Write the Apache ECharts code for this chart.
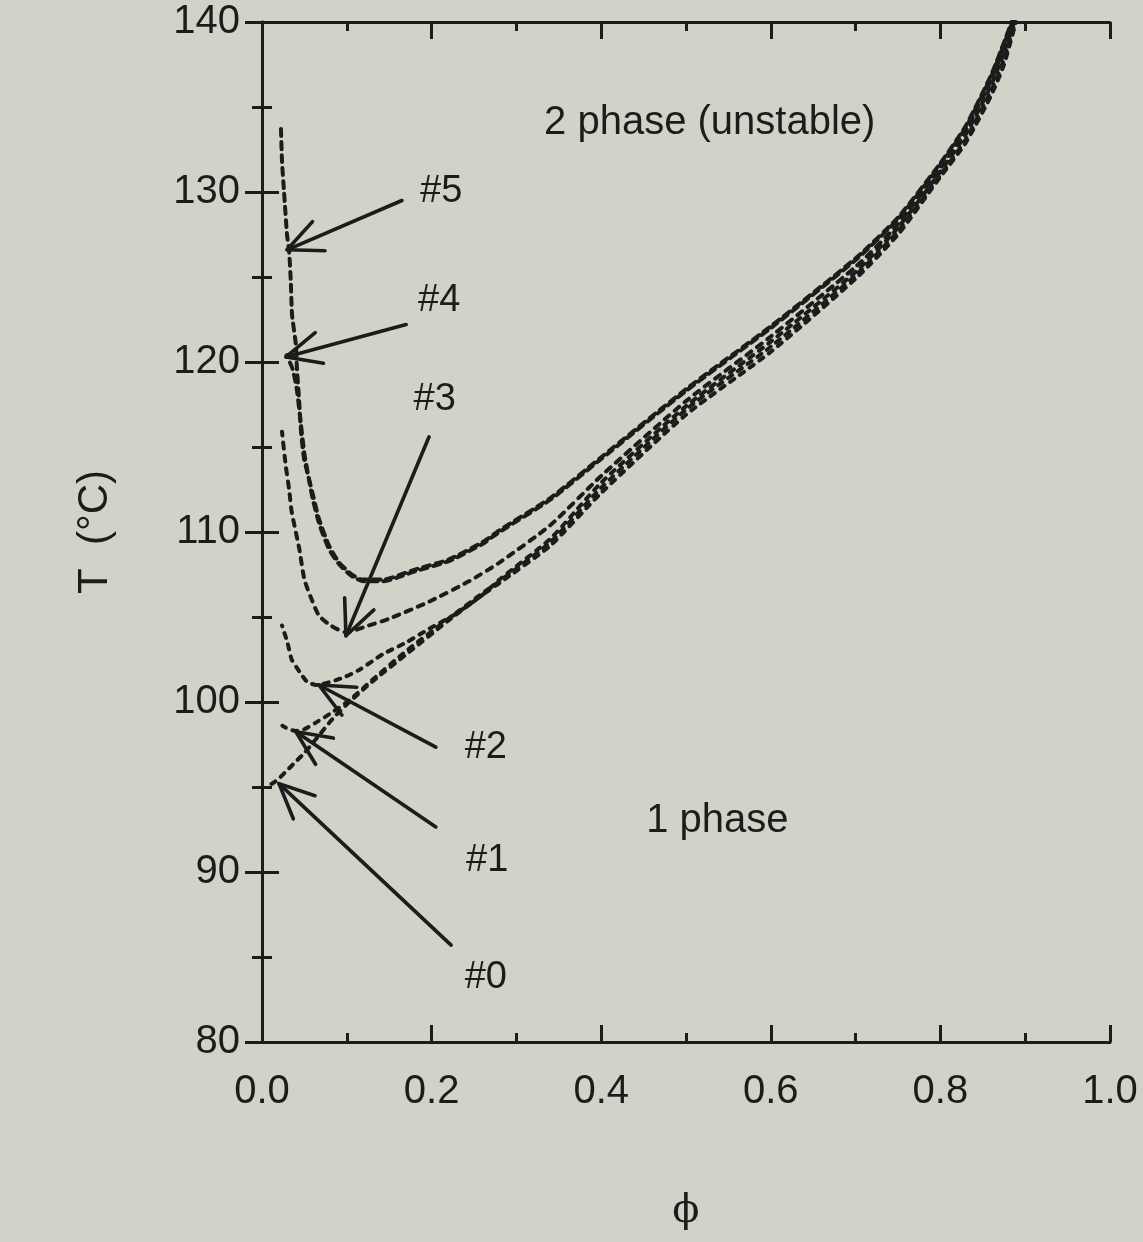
<!DOCTYPE html>
<html>
<head>
<meta charset="utf-8">
<script src="https://cdn.jsdelivr.net/npm/echarts@6/dist/echarts.min.js"></script>
<style>
  html, body { margin: 0; padding: 0; background: #d1d3c8; }
  #chart { width: 1143px; height: 1242px; }
</style>
</head>
<body>
<div id="chart"></div>
<script>
// Spinodal curves, [phi, T (°C)] for samples #0 .. #5
const curve5 = [[0.0224,133.7],[0.0236,131.8],[0.026,130.0],[0.0295,127.5],[0.032,126.5],[0.034,124.7],[0.0354,122.8],[0.040,121.0],[0.041,119.8],[0.0437,117.8],[0.046,115.9],[0.0496,114.3],[0.053,113.6],[0.059,112.4],[0.067,110.8],[0.079,109.2],[0.091,108.2],[0.106,107.5],[0.118,107.2],[0.142,107.2],[0.181,107.8],[0.221,108.4],[0.26,109.4],[0.28,110.1],[0.34,112.0],[0.4,114.4],[0.5,118.4],[0.6,122.1],[0.7,126.1],[0.75,128.5],[0.8,131.7],[0.83,133.9],[0.86,136.9],[0.875,138.8],[0.884,140.0]];
const curve4 = [[0.029,120.4],[0.036,119.6],[0.041,118.4],[0.046,116.3],[0.050,114.6],[0.055,113.2],[0.060,111.9],[0.068,110.4],[0.079,109.0],[0.091,108.1],[0.106,107.4],[0.12,107.1],[0.142,107.1],[0.181,107.7],[0.221,108.3],[0.26,109.3],[0.28,110.0],[0.34,111.9],[0.4,114.3],[0.5,118.3],[0.6,122.0],[0.7,126.0],[0.75,128.4],[0.8,131.6],[0.83,133.8],[0.86,136.8],[0.875,138.7],[0.885,140.0]];
const curve3 = [[0.0236,115.9],[0.028,113.9],[0.032,112.5],[0.035,111.2],[0.044,109.0],[0.050,107.2],[0.058,106.1],[0.067,105.1],[0.081,104.5],[0.099,104.1],[0.126,104.5],[0.15,104.9],[0.197,105.9],[0.244,107.1],[0.28,108.2],[0.34,110.4],[0.4,113.3],[0.5,117.7],[0.6,121.5],[0.7,125.6],[0.75,128.1],[0.8,131.4],[0.83,133.6],[0.86,136.6],[0.875,138.5],[0.886,140.0]];
const curve2 = [[0.0236,104.5],[0.030,103.5],[0.035,102.5],[0.044,101.8],[0.053,101.2],[0.064,101.0],[0.094,101.4],[0.115,101.9],[0.142,102.8],[0.170,103.5],[0.197,104.3],[0.229,105.2],[0.26,106.3],[0.28,107.2],[0.34,109.6],[0.4,112.9],[0.5,117.4],[0.6,121.2],[0.7,125.3],[0.75,127.9],[0.8,131.2],[0.83,133.4],[0.86,136.3],[0.875,138.2],[0.887,140.0]];
const curve1 = [[0.024,98.6],[0.032,98.4],[0.040,98.3],[0.050,98.4],[0.064,98.8],[0.083,99.4],[0.103,100.1],[0.13,101.3],[0.17,103.0],[0.22,104.9],[0.26,106.4],[0.28,107.1],[0.34,109.4],[0.4,112.6],[0.5,117.2],[0.6,120.9],[0.7,125.1],[0.75,127.7],[0.8,131.0],[0.83,133.1],[0.86,136.0],[0.875,137.8],[0.888,140.0]];
const curve0 = [[0.004,95.1],[0.012,95.2],[0.020,95.5],[0.030,96.0],[0.040,96.5],[0.050,97.0],[0.065,97.9],[0.083,99.0],[0.103,100.0],[0.13,101.2],[0.17,102.8],[0.22,104.8],[0.26,106.3],[0.28,107.0],[0.34,109.2],[0.4,112.3],[0.5,116.9],[0.6,120.6],[0.7,124.9],[0.75,127.5],[0.8,130.9],[0.83,132.9],[0.86,135.7],[0.875,137.5],[0.889,140.0]];

// Pointer arrows: [tail phi, tail T, head phi, head T]
const arrows = [
  [0.165, 129.5, 0.0295, 126.6],
  [0.170, 122.2, 0.0283, 120.3],
  [0.197, 115.6, 0.099, 103.9],
  [0.205, 97.35, 0.067, 101.0],
  [0.205, 92.65, 0.040, 98.25],
  [0.223, 85.7, 0.020, 95.2]
];

// Text annotations: [phi, T, text]
const sampleLabels = [
  [0.2113, 130.0, '#5'],
  [0.209, 123.6, '#4'],
  [0.2037, 117.8, '#3'],
  [0.264, 97.35, '#2'],
  [0.2656, 90.7, '#1'],
  [0.264, 83.8, '#0']
];
const regionLabels = [
  [0.528, 134.06, '2 phase (unstable)'],
  [0.537, 93.0, '1 phase']
];

const ink = '#1c1c1a';
const FONT = '"Liberation Sans", Arial, Helvetica, sans-serif';

function curveSeries(name, data, dash, offset) {
  return {
    name: name,
    type: 'line',
    data: data,
    showSymbol: false,
    smooth: 0.2,
    clip: true,
    silent: true,
    lineStyle: { color: ink, width: 4, type: dash, dashOffset: offset, cap: 'round' },
    z: 3
  };
}

const chart = echarts.init(document.getElementById('chart'), null, { renderer: 'canvas' });

const baseAxisLine = { show: true, lineStyle: { color: ink, width: 3 } };

chart.setOption({
  backgroundColor: '#d1d3c8',
  animation: false,
  grid: { left: 262, right: 33, top: 22, bottom: 200, containLabel: false },
  xAxis: [
    {
      type: 'value', min: 0, max: 1, interval: 0.2, position: 'bottom',
      axisLine: baseAxisLine,
      axisTick: { show: true, inside: true, length: 17, lineStyle: { color: ink, width: 3 } },
      minorTick: { show: true, splitNumber: 2, length: 9, lineStyle: { color: ink, width: 3 } },
      splitLine: { show: false },
      axisLabel: {
        color: ink, fontFamily: FONT, fontSize: 40, margin: 30,
        formatter: v => v.toFixed(1)
      },
      name: 'ϕ', nameLocation: 'middle', nameGap: 150,
      nameTextStyle: { color: ink, fontFamily: '"DejaVu Serif", serif', fontSize: 40 }
    },
    {
      type: 'value', min: 0, max: 1, interval: 0.2, position: 'top',
      axisLine: baseAxisLine,
      axisTick: { show: true, inside: true, length: 17, lineStyle: { color: ink, width: 3 } },
      minorTick: { show: true, splitNumber: 2, length: 9, lineStyle: { color: ink, width: 3 } },
      splitLine: { show: false },
      axisLabel: { show: false }
    }
  ],
  yAxis: [
    {
      type: 'value', min: 80, max: 140, interval: 10, position: 'left',
      axisLine: baseAxisLine,
      axisTick: { show: true, inside: true, length: 17, lineStyle: { color: ink, width: 3 } },
      minorTick: { show: true, splitNumber: 2, length: 10, lineStyle: { color: ink, width: 3 } },
      splitLine: { show: false },
      axisLabel: { color: ink, fontFamily: FONT, fontSize: 40, margin: 22, padding: [16, 0, 0, 0] },
      name: 'T  (°C)', nameLocation: 'middle', nameGap: 146, nameRotate: 90,
      nameTextStyle: { color: ink, fontFamily: FONT, fontSize: 42 }
    },
    {
      type: 'value', min: 80, max: 140, interval: 10, position: 'right',
      axisLine: baseAxisLine,
      axisTick: { show: true, inside: true, length: 17, lineStyle: { color: ink, width: 3 } },
      minorTick: { show: true, splitNumber: 2, length: 10, lineStyle: { color: ink, width: 3 } },
      splitLine: { show: false },
      axisLabel: { show: false }
    }
  ],
  series: [
    curveSeries('#5', curve5, [7, 6], 0),
    curveSeries('#4', curve4, [7, 6], 5),
    curveSeries('#3', curve3, [6, 7], 2),
    curveSeries('#2', curve2, [5, 7], 4),
    curveSeries('#1', curve1, [5, 7], 1),
    curveSeries('#0', curve0, [5, 7], 6),
    {
      type: 'custom',
      data: arrows,
      silent: true,
      z: 5,
      renderItem: function (params, api) {
        const t = api.coord([api.value(0), api.value(1)]);
        const h = api.coord([api.value(2), api.value(3)]);
        const ang = Math.atan2(t[1] - h[1], t[0] - h[0]);
        const L = 38, A = 0.43;
        const b1 = [h[0] + L * Math.cos(ang + A), h[1] + L * Math.sin(ang + A)];
        const b2 = [h[0] + L * Math.cos(ang - A), h[1] + L * Math.sin(ang - A)];
        const st = { stroke: ink, lineWidth: 3.6, lineCap: 'round', lineJoin: 'round', fill: null };
        return {
          type: 'group',
          children: [
            { type: 'line', shape: { x1: t[0], y1: t[1], x2: h[0], y2: h[1] }, style: st },
            { type: 'polyline', shape: { points: [b1, h, b2] }, style: st }
          ]
        };
      }
    },
    {
      type: 'custom',
      data: sampleLabels.concat(regionLabels),
      silent: true,
      z: 6,
      renderItem: function (params, api) {
        const p = api.coord([api.value(0), api.value(1)]);
        const item = params.dataIndex < sampleLabels.length
          ? sampleLabels[params.dataIndex]
          : regionLabels[params.dataIndex - sampleLabels.length];
        const size = params.dataIndex < sampleLabels.length ? 38 : 40;
        return {
          type: 'text',
          x: p[0], y: p[1],
          style: {
            text: item[2], fill: ink,
            font: size + 'px ' + FONT,
            align: 'center', verticalAlign: 'middle'
          }
        };
      }
    }
  ]
});
</script>
</body>
</html>
